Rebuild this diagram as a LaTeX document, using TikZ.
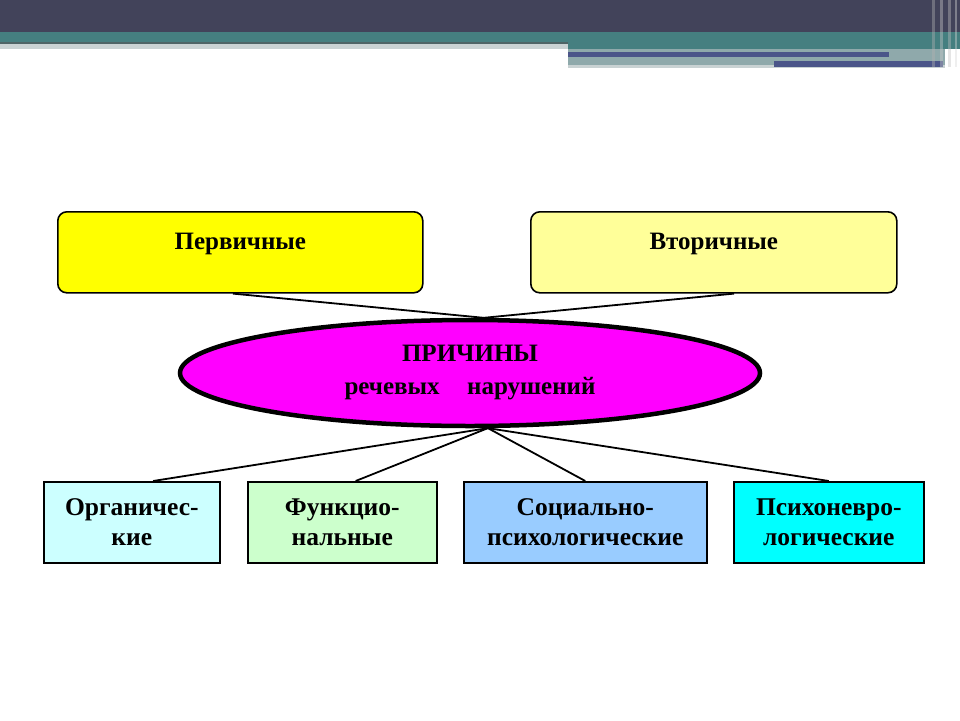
\documentclass[tikz,border=0pt]{standalone}
\usepackage{fontspec}
\setmainfont{Liberation Serif}
\usetikzlibrary{shapes.geometric,calc}
\definecolor{hdark}{HTML}{42435A}
\definecolor{hteal}{HTML}{457F80}
\definecolor{hblue}{HTML}{4B5589}
\definecolor{hgray}{HTML}{8FA9AB}
\definecolor{hline}{HTML}{4E6466}
\definecolor{hlight}{HTML}{C9D2D3}
\definecolor{yel}{HTML}{FFFF00}
\definecolor{lyel}{HTML}{FFFF99}
\definecolor{lcyan}{HTML}{CCFFFF}
\definecolor{lgreen}{HTML}{CCFFCC}
\definecolor{lblue}{HTML}{99CCFF}
\definecolor{cyan2}{HTML}{00FFFF}
\definecolor{mag}{HTML}{FF00FF}
\tikzset{
  topbox/.style={draw=black, line width=1.6pt, rounded corners=9pt, minimum width=365pt, minimum height=81pt, font=\fontsize{25}{30}\selectfont\bfseries, text depth=0pt},
  botbox/.style={draw=black, line width=1.6pt, minimum height=81pt, font=\fontsize{25.5}{30}\selectfont\bfseries, align=center},
  conn/.style={line width=1.8pt, black},
}
\begin{document}
\begin{tikzpicture}[x=1pt,y=-1pt]
\useasboundingbox (0,0) rectangle (960,720);
\fill[white] (0,0) rectangle (960,720);
% header
\fill[hdark] (0,0) rectangle (960,32);
\fill[hteal] (0,32) rectangle (960,42);
\fill[hline] (0,42) rectangle (568,44);
\fill[hlight] (0,44) rectangle (568,49);
\fill[hteal] (568,42) rectangle (960,49);
\fill[hgray] (568,49) rectangle (945,67);
\fill[hlight] (568,65) rectangle (945,68);
\fill[hblue] (568,52) rectangle (889,57);
\fill[hblue] (774,61) rectangle (943,67);
\fill[gray!60, opacity=0.4] (932,0) rectangle (935,67);
\fill[gray!40, opacity=0.4] (940,0) rectangle (943,67);
\fill[gray!50, opacity=0.4] (948,0) rectangle (951,67);
\fill[gray!30, opacity=0.4] (955,0) rectangle (957,67);

% top boxes
\node[topbox, fill=yel, anchor=north west] (p) at (57,211) {\raisebox{21pt}{Первичные}};
\node[topbox, fill=lyel, anchor=north west, minimum width=366pt] (v) at (530,211) {\raisebox{21pt}{Вторичные}};

% ellipse
\node[ellipse, draw=black, line width=4.5pt, fill=mag, minimum width=580pt, minimum height=106pt, align=center, font=\fontsize{25}{33}\selectfont\bfseries] (e) at (470,373) {ПРИЧИНЫ\\речевых\hspace{1.1em}нарушений};

% bottom boxes
\node[botbox, fill=lcyan, anchor=north west, minimum width=176pt] (b1) at (43,481) {Органичес-\\кие};
\node[botbox, fill=lgreen, anchor=north west, minimum width=189pt] (b2) at (247,481) {Функцио-\\нальные};
\node[botbox, fill=lblue, anchor=north west, minimum width=243pt] (b3) at (463,481) {Социально-\\психологические};
\node[botbox, fill=cyan2, anchor=north west, minimum width=190pt] (b4) at (733,481) {Психоневро-\\логические};

% connectors
\draw[conn] ($(p.south west)!0.48!(p.south east)$) -- (e.76);
\draw[conn] ($(v.south west)!0.555!(v.south east)$) -- (e.76);
\draw[conn] ($(b1.north west)!0.62!(b1.north east)$) -- (e.-72);
\draw[conn] ($(b2.north west)!0.57!(b2.north east)$) -- (e.-72);
\draw[conn] ($(b3.north west)!0.50!(b3.north east)$) -- (e.-72);
\draw[conn] ($(b4.north west)!0.50!(b4.north east)$) -- (e.-72);
\end{tikzpicture}
\end{document}
